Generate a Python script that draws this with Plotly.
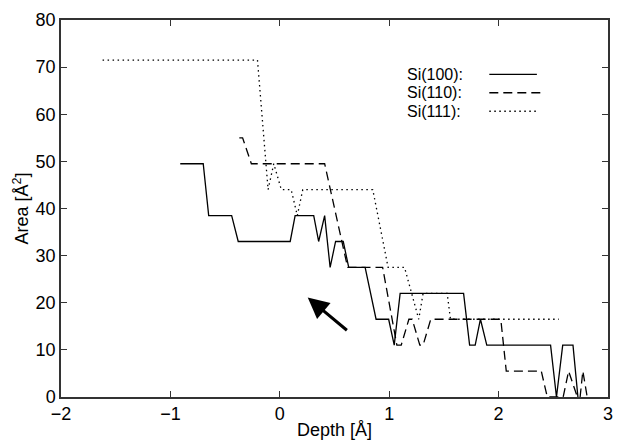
import plotly.graph_objects as go

# Cross-section area vs. depth for three silicon surfaces
si100_depth = [-0.91, -0.70, -0.65, -0.44, -0.38, 0.095, 0.14, 0.31, 0.355, 0.41, 0.46, 0.51,
               0.58, 0.63, 0.78, 0.88, 0.995, 1.046, 1.10, 1.68, 1.735, 1.786, 1.834, 1.892,
               2.475, 2.529, 2.586, 2.68, 2.725]
si100_area = [49.5, 49.5, 38.5, 38.5, 33, 33, 38.5, 38.5, 33, 38.5, 27.5, 33,
              33, 27.5, 27.5, 16.5, 16.5, 11, 22, 22, 11, 11, 16.5, 11,
              11, 0, 11, 11, 0]

si110_depth = [-0.37, -0.34, -0.26, 0.41, 0.62, 0.94, 1.07, 1.11, 1.18, 1.21, 1.28, 1.31,
               1.38, 2.02, 2.07, 2.39, 2.445, 2.59, 2.64, 2.72, 2.745, 2.77, 2.81]
si110_area = [55, 55, 49.5, 49.5, 27.5, 27.5, 11, 11, 16.5, 16.5, 11, 11,
              16.5, 16.5, 5.5, 5.5, 0, 0, 5.5, 0, 0, 5.5, 0]

si111_depth = [-1.62, -0.204, -0.107, -0.055, 0.014, 0.104, 0.16, 0.21, 0.85, 0.99, 1.14,
               1.27, 1.31, 1.53, 1.56, 2.55]
si111_area = [71.5, 71.5, 44, 49.5, 44, 44, 38.5, 44, 44, 27.5, 27.5,
              16.5, 22, 22, 16.5, 16.5]

series_names = ["Si(100):", "Si(110):", "Si(111):"]
series_dash = ["solid", "9px,5px", "1.5px,3.5px"]

x_ticks = [-2, -1, 0, 1, 2, 3]
y_ticks = [0, 10, 20, 30, 40, 50, 60, 70, 80]

# arrow: tip and tail in data units
arrow_tip = (0.255, 21.1)
arrow_tail = (0.627, 13.9)

FONT = "Liberation Sans, Arial, Helvetica, sans-serif"

fig = go.Figure()
for xs, ys, dash in zip([si100_depth, si110_depth, si111_depth],
                        [si100_area, si110_area, si111_area], series_dash):
    fig.add_trace(go.Scatter(x=xs, y=ys, mode="lines",
                             line=dict(color="black", width=1.3, dash=dash),
                             showlegend=False))

# hand-drawn style legend: label on the left, line sample on the right
legend_y = [0.856, 0.807, 0.758]
legend_x1 = [0.870, 0.879, 0.870]
for name, dash, ly, lx1 in zip(series_names, series_dash, legend_y, legend_x1):
    fig.add_annotation(x=0.630, y=ly, xref="paper", yref="paper", text=name,
                       showarrow=False, xanchor="left", yanchor="middle",
                       borderpad=0,
                       font=dict(family=FONT, size=16, color="black"))
    fig.add_shape(type="line", xref="paper", yref="paper", x0=0.783, x1=lx1, y0=ly, y1=ly,
                  line=dict(color="black", width=1.3, dash=dash))

fig.add_annotation(x=arrow_tip[0], y=arrow_tip[1], ax=arrow_tail[0], ay=arrow_tail[1],
                   xref="x", yref="y", axref="x", ayref="y", text="",
                   showarrow=True, arrowhead=2, arrowsize=1.4, arrowwidth=3,
                   arrowcolor="black", standoff=0)

axis_common = dict(showline=True, linecolor="#333333", linewidth=1.5, mirror="ticks",
                   ticks="inside", ticklen=6, tickwidth=1, tickcolor="#333333",
                   showgrid=False, zeroline=False,
                   tickfont=dict(family=FONT, size=18, color="black"))

fig.update_xaxes(range=[-2, 3], tickvals=x_ticks,
                 ticktext=[("\u2212" + str(-v)) if v < 0 else str(v) for v in x_ticks],
                 title=dict(text="Depth [Å]", font=dict(family=FONT, size=18, color="black"), standoff=0),
                 **axis_common)
fig.update_yaxes(range=[0, 80], tickvals=y_ticks,
                 title=dict(text="Area [Å<sup>2</sup>]", font=dict(family=FONT, size=18, color="black"), standoff=2),
                 **axis_common)

fig.update_layout(width=617, height=441, margin=dict(l=61, r=4, t=20, b=43),
                  plot_bgcolor="white", paper_bgcolor="white")

fig.write_html("out.html")
